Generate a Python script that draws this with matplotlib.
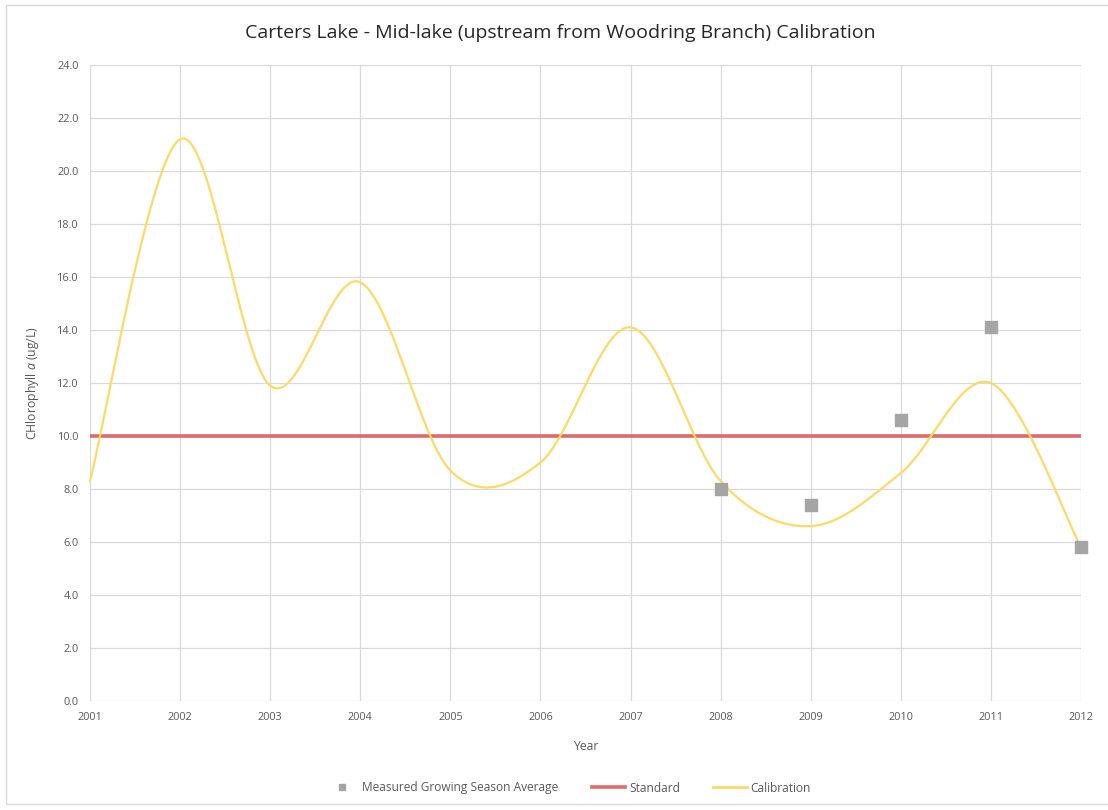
import numpy as np
import matplotlib
matplotlib.use("Agg")
import matplotlib.pyplot as plt
from matplotlib.lines import Line2D
from matplotlib.patches import Rectangle

plt.rcParams['font.family'] = ['Open Sans', 'DejaVu Sans']
plt.rcParams['mathtext.fontset'] = 'custom'
plt.rcParams['mathtext.it'] = 'Open Sans:italic'
plt.rcParams['mathtext.rm'] = 'Open Sans'

# Data
years = [2001, 2002, 2003, 2004, 2005, 2006, 2007, 2008, 2009, 2010, 2011, 2012]
calibration = [8.3, 21.2, 11.9, 15.8, 8.7, 9.0, 14.1, 8.3, 6.6, 8.6, 12.0, 5.8]
measured_years = [2008, 2009, 2010, 2011, 2012]
measured = [8.0, 7.4, 10.6, 14.1, 5.8]
standard = 10.0

TEXT = '#595959'
GRID = '#D9D9D9'


def smooth_line(x, y, steps=40):
    """Catmull-Rom curve through the points (same style as spreadsheet smoothed lines)."""
    x = np.asarray(x, float)
    y = np.asarray(y, float)
    n = len(x)
    xs, ys = [], []
    for i in range(n - 1):
        p0 = y[i - 1] if i > 0 else y[i]
        p1, p2 = y[i], y[i + 1]
        p3 = y[i + 2] if i + 2 < n else y[i + 1]
        x0 = x[i - 1] if i > 0 else x[i]
        x1, x2 = x[i], x[i + 1]
        x3 = x[i + 2] if i + 2 < n else x[i + 1]
        t = np.linspace(0, 1, steps, endpoint=(i == n - 2))
        h00 = 2 * t**3 - 3 * t**2 + 1
        h10 = t**3 - 2 * t**2 + t
        h01 = -2 * t**3 + 3 * t**2
        h11 = t**3 - t**2
        m1y, m2y = (p2 - p0) / 2, (p3 - p1) / 2
        m1x, m2x = (x2 - x0) / 2, (x3 - x1) / 2
        xs.append(h00 * x1 + h10 * m1x + h01 * x2 + h11 * m2x)
        ys.append(h00 * p1 + h10 * m1y + h01 * p2 + h11 * m2y)
    return np.concatenate(xs), np.concatenate(ys)


fig = plt.figure(figsize=(11.08, 8.10), dpi=100)
fig.patches.append(Rectangle((6 / 1108, 6 / 810), 1.1, 799 / 810, transform=fig.transFigure,
                             fill=False, edgecolor='#D9D9D9', linewidth=1.0))

ax = fig.add_axes([90 / 1108, 109 / 810, 991 / 1108, 636 / 810])
ax.set_xlim(2001, 2012)
ax.set_ylim(0, 24)
ax.set_xticks(years)
ax.set_yticks(np.arange(0, 24.1, 2))
ax.set_yticklabels([f'{v:.1f}' for v in np.arange(0, 24.1, 2)])
ax.grid(True, color=GRID, linewidth=0.9)
ax.set_axisbelow(True)
for s in ax.spines.values():
    s.set_visible(False)
ax.tick_params(length=0, labelsize=7.8, colors=TEXT, pad=8)

ax.axhline(standard, color='#E06A6A', linewidth=2.6, zorder=3)
cx, cy = smooth_line(years, calibration)
ax.plot(cx, cy, color='#FFD966', linewidth=1.6, zorder=4, clip_on=False)
ax.scatter(measured_years, measured, marker='s', s=70, color='#A5A5A5', zorder=5, clip_on=False)

fig.text(560 / 1108, 1 - 33 / 810,
         'Carters Lake - Mid-lake (upstream from Woodring Branch) Calibration',
         ha='center', va='center', fontsize=14, color='#262626')
ax.set_xlabel('Year', fontsize=8.8, color=TEXT, labelpad=12)
ax.set_ylabel('CHlorophyll $a$ (ug/L)', fontsize=8.8, color=TEXT, labelpad=12)

handles = [
    Line2D([], [], marker='s', linestyle='none', color='#A5A5A5', markersize=5),
    Line2D([], [], color='#E06A6A', linewidth=2.6),
    Line2D([], [], color='#FFD966', linewidth=2.0),
]
fig.legend(handles, ['Measured Growing Season Average', 'Standard', 'Calibration'],
           loc='center', bbox_to_anchor=(568 / 1108, 22 / 810), ncol=3, frameon=False,
           fontsize=8.6, labelcolor=TEXT, columnspacing=2.8, handlelength=2.8, handletextpad=0.3)

fig.savefig('out.png', dpi=100)
